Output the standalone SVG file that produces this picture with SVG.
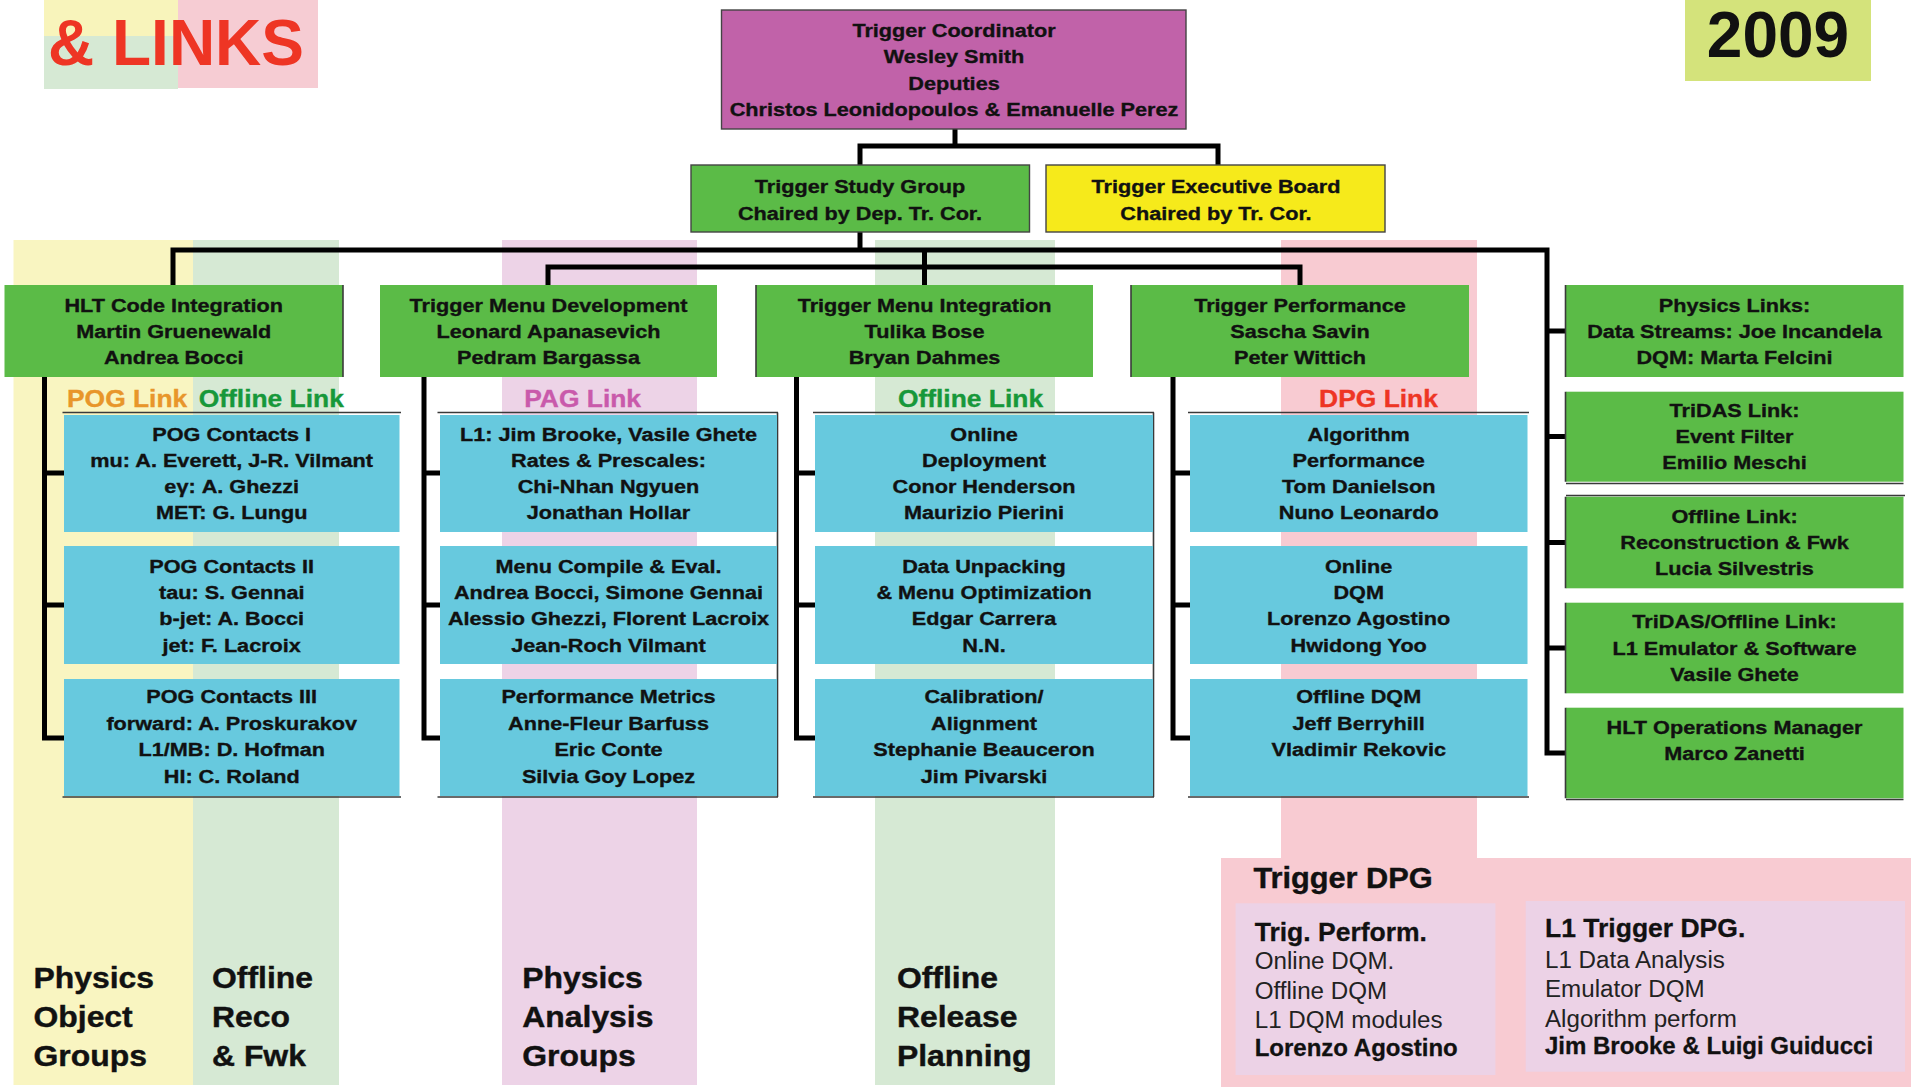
<svg xmlns="http://www.w3.org/2000/svg" width="1911" height="1088" viewBox="0 0 1911 1088">
<style>
.t{font-family:"Liberation Sans",Arial,Helvetica,sans-serif;font-weight:bold;font-size:19px;fill:#111;stroke:#111;stroke-width:0.35px;text-anchor:middle}
.big{font-family:"Liberation Sans",Arial,Helvetica,sans-serif;font-weight:bold;font-size:64px}
.lnk{font-family:"Liberation Sans",Arial,Helvetica,sans-serif;font-weight:bold;font-size:24px;stroke-width:0.35px}
.lab{font-family:"Liberation Sans",Arial,Helvetica,sans-serif;font-weight:bold;font-size:29px;fill:#111;stroke:#111;stroke-width:0.4px}
.dh{font-family:"Liberation Sans",Arial,Helvetica,sans-serif;font-weight:bold;font-size:26.5px;fill:#111;stroke:#111;stroke-width:0.3px}
.dr{font-family:"Liberation Sans",Arial,Helvetica,sans-serif;font-size:23px;fill:#222}
.db{font-family:"Liberation Sans",Arial,Helvetica,sans-serif;font-weight:bold;font-size:24px;fill:#111;stroke:#111;stroke-width:0.3px}
.gb{fill:#5bbb47}
.cy{fill:#67c9de}
.edge{stroke:#3a3a3a;stroke-width:1.6;fill:none}
</style>

<g id="background">
  <rect x="44" y="0" width="134" height="36" fill="#f8f4bb"/>
  <rect x="44" y="36" width="134" height="53" fill="#d6e9d4"/>
  <rect x="178" y="0" width="140" height="88" fill="#f6ccd3"/>
  <rect x="1685" y="0" width="186" height="81" fill="#d4e37b"/>
  <rect x="13.5" y="240" width="179.5" height="845" fill="#f9f5c1"/>
  <rect x="193" y="240" width="146" height="845" fill="#d6e9d4"/>
  <rect x="502" y="240" width="195" height="845" fill="#edd3e7"/>
  <rect x="875" y="240" width="180" height="845" fill="#d6e9d4"/>
  <rect x="1281" y="240" width="196" height="620" fill="#f8cbd2"/>
</g>

<g id="title">
  <text class="big" x="48" y="65" fill="#ee3524">&amp; LINKS</text>
  <text class="big" x="1778" y="57" fill="#111" text-anchor="middle">2009</text>
</g>

<g id="connectors" fill="none" stroke="#000" stroke-width="5">
  <path d="M955,129V146"/>
  <path d="M860,165V146H1218V165"/>
  <path d="M860,232V250"/>
  <path d="M173,285V250H1547V753H1566"/>
  <path d="M924.5,250V285"/>
  <path d="M548,285V267H1300V285"/>
  <path d="M1547,331H1566M1547,436.5H1566M1547,542.5H1566M1547,648H1566"/>
  <path d="M44.5,377V738H64M44.5,473H64M44.5,605H64"/>
  <path d="M424,377V738H440M424,473H440M424,605H440"/>
  <path d="M796.5,377V738H815M796.5,473H815M796.5,605H815"/>
  <path d="M1173,377V738H1190M1173,473H1190M1173,605H1190"/>
</g>

<g id="trigger-coordinator">
  <rect x="721.5" y="10" width="464.5" height="119" fill="#c162a9" stroke="#444" stroke-width="1.4"/>
  <text class="t" transform="translate(954,37.3) scale(1.14 1)"><tspan x="0">Trigger Coordinator</tspan><tspan x="0" dy="26.2">Wesley Smith</tspan><tspan x="0" dy="26.2">Deputies</tspan><tspan x="0" dy="26.2">Christos Leonidopoulos &amp; Emanuelle Perez</tspan></text>
</g>

<g id="trigger-study-group">
  <rect x="691" y="165" width="338.5" height="67" class="gb" stroke="#444" stroke-width="1.4"/>
  <text class="t" transform="translate(860,193.3) scale(1.14 1)"><tspan x="0">Trigger Study Group</tspan><tspan x="0" dy="26.7">Chaired by Dep. Tr. Cor.</tspan></text>
</g>

<g id="trigger-executive-board">
  <rect x="1046" y="165" width="339" height="67" fill="#f6ea1b" stroke="#444" stroke-width="1.4"/>
  <text class="t" transform="translate(1216,193.3) scale(1.14 1)"><tspan x="0">Trigger Executive Board</tspan><tspan x="0" dy="26.7">Chaired by Tr. Cor.</tspan></text>
</g>

<g id="hlt-code-integration">
  <rect x="4.5" y="285" width="338.5" height="92" class="gb"/>
  <path class="edge" d="M343,285V377"/>
  <text class="t" transform="translate(173.7,311.7) scale(1.14 1)"><tspan x="0">HLT Code Integration</tspan><tspan x="0" dy="26.2">Martin Gruenewald</tspan><tspan x="0" dy="26.2">Andrea Bocci</tspan></text>
</g>

<g id="trigger-menu-development">
  <rect x="380" y="285" width="337" height="92" class="gb"/>
  <text class="t" transform="translate(548.5,311.7) scale(1.14 1)"><tspan x="0">Trigger Menu Development</tspan><tspan x="0" dy="26.2">Leonard Apanasevich</tspan><tspan x="0" dy="26.2">Pedram Bargassa</tspan></text>
</g>

<g id="trigger-menu-integration">
  <rect x="756" y="285" width="337" height="92" class="gb"/>
  <path class="edge" d="M756,285V377"/>
  <text class="t" transform="translate(924.5,311.7) scale(1.14 1)"><tspan x="0">Trigger Menu Integration</tspan><tspan x="0" dy="26.2">Tulika Bose</tspan><tspan x="0" dy="26.2">Bryan Dahmes</tspan></text>
</g>

<g id="trigger-performance">
  <rect x="1131" y="285" width="338" height="92" class="gb"/>
  <path class="edge" d="M1131,285V377"/>
  <text class="t" transform="translate(1300,311.7) scale(1.14 1)"><tspan x="0">Trigger Performance</tspan><tspan x="0" dy="26.2">Sascha Savin</tspan><tspan x="0" dy="26.2">Peter Wittich</tspan></text>
</g>

<g id="physics-links">
  <rect x="1566" y="285" width="337.5" height="92" class="gb"/>
  <path class="edge" d="M1565.5,285V377"/>
  <text class="t" transform="translate(1734.5,311.7) scale(1.14 1)"><tspan x="0">Physics Links:</tspan><tspan x="0" dy="26.2">Data Streams: Joe Incandela</tspan><tspan x="0" dy="26.2">DQM: Marta Felcini</tspan></text>
</g>

<g id="tridas-link">
  <rect x="1566" y="391.7" width="337.5" height="90" class="gb"/>
  <path class="edge" d="M1565.5,391.7V481.7M1566,483.5H1903.5"/>
  <text class="t" transform="translate(1734.5,417.3) scale(1.14 1)"><tspan x="0">TriDAS Link:</tspan><tspan x="0" dy="26">Event Filter</tspan><tspan x="0" dy="26">Emilio Meschi</tspan></text>
</g>

<g id="offline-link-reco">
  <rect x="1566" y="496.7" width="337.5" height="91.6" class="gb"/>
  <path class="edge" d="M1565.5,496.7V588.3M1566,495.5H1905"/>
  <text class="t" transform="translate(1734.5,522.7) scale(1.14 1)"><tspan x="0">Offline Link:</tspan><tspan x="0" dy="26.2">Reconstruction &amp; Fwk</tspan><tspan x="0" dy="26.2">Lucia Silvestris</tspan></text>
</g>

<g id="tridas-offline-link">
  <rect x="1566" y="602.7" width="337.5" height="90.6" class="gb"/>
  <path class="edge" d="M1565.5,602.7V693.3"/>
  <text class="t" transform="translate(1734.5,628.3) scale(1.14 1)"><tspan x="0">TriDAS/Offline Link:</tspan><tspan x="0" dy="26.3">L1 Emulator &amp; Software</tspan><tspan x="0" dy="26.3">Vasile Ghete</tspan></text>
</g>

<g id="hlt-operations-manager">
  <rect x="1566" y="707.7" width="337.5" height="90.6" class="gb"/>
  <path class="edge" d="M1565.5,707.7V798.3M1566,799.5H1903.5"/>
  <text class="t" transform="translate(1734.5,734) scale(1.14 1)"><tspan x="0">HLT Operations Manager</tspan><tspan x="0" dy="26">Marco Zanetti</tspan></text>
</g>

<g id="link-labels">
  <text class="lnk" transform="translate(67,406.7) scale(1.1 1)" fill="#e8962a" stroke="#e8962a">POG Link</text>
  <text class="lnk" transform="translate(198.7,406.7) scale(1.1 1)" fill="#17983a" stroke="#17983a">Offline Link</text>
  <text class="lnk" transform="translate(582.6,406.7) scale(1.1 1)" fill="#c95aab" stroke="#c95aab" text-anchor="middle">PAG Link</text>
  <text class="lnk" transform="translate(970.5,406.7) scale(1.1 1)" fill="#17983a" stroke="#17983a" text-anchor="middle">Offline Link</text>
  <text class="lnk" transform="translate(1378.5,406.7) scale(1.1 1)" fill="#ee3524" stroke="#ee3524" text-anchor="middle">DPG Link</text>
</g>

<g id="column-edges">
  <path class="edge" d="M62.5,412.5H401M62.5,797H401"/>
  <path class="edge" d="M437.5,412.5H778M437.5,797H778M777.5,412.5V797"/>
  <path class="edge" d="M813,412.5H1154M813,797H1154M1153.5,412.5V797"/>
  <path class="edge" d="M1188,412.5H1529M1188,797H1529"/>
</g>

<g id="pog-contacts-1">
  <rect x="64" y="415" width="335.5" height="117" class="cy"/>
  <text class="t" transform="translate(231.7,440.7) scale(1.14 1)"><tspan x="0">POG Contacts I</tspan><tspan x="0" dy="26.2">mu: A. Everett, J-R. Vilmant</tspan><tspan x="0" dy="26.2">eγ: A. Ghezzi</tspan><tspan x="0" dy="26.2">MET: G. Lungu</tspan></text>
</g>
<g id="pog-contacts-2">
  <rect x="64" y="546" width="335.5" height="118" class="cy"/>
  <text class="t" transform="translate(231.7,572.7) scale(1.14 1)"><tspan x="0">POG Contacts II</tspan><tspan x="0" dy="26.3">tau: S. Gennai</tspan><tspan x="0" dy="26.3">b-jet: A. Bocci</tspan><tspan x="0" dy="26.3">jet: F. Lacroix</tspan></text>
</g>
<g id="pog-contacts-3">
  <rect x="64" y="679" width="335.5" height="117" class="cy"/>
  <text class="t" transform="translate(231.7,703.3) scale(1.14 1)"><tspan x="0">POG Contacts III</tspan><tspan x="0" dy="26.5">forward: A. Proskurakov</tspan><tspan x="0" dy="26.5">L1/MB: D. Hofman</tspan><tspan x="0" dy="26.5">HI: C. Roland</tspan></text>
</g>

<g id="pag-l1-rates">
  <rect x="440" y="415" width="337" height="117" class="cy"/>
  <text class="t" transform="translate(608.5,440.7) scale(1.14 1)"><tspan x="0">L1: Jim Brooke, Vasile Ghete</tspan><tspan x="0" dy="26.2">Rates &amp; Prescales:</tspan><tspan x="0" dy="26.2">Chi-Nhan Ngyuen</tspan><tspan x="0" dy="26.2">Jonathan Hollar</tspan></text>
</g>
<g id="pag-menu-compile">
  <rect x="440" y="546" width="337" height="118" class="cy"/>
  <text class="t" transform="translate(608.5,572.7) scale(1.14 1)"><tspan x="0">Menu Compile &amp; Eval.</tspan><tspan x="0" dy="26.3">Andrea Bocci, Simone Gennai</tspan><tspan x="0" dy="26.3">Alessio Ghezzi, Florent Lacroix</tspan><tspan x="0" dy="26.3">Jean-Roch Vilmant</tspan></text>
</g>
<g id="pag-performance-metrics">
  <rect x="440" y="679" width="337" height="117" class="cy"/>
  <text class="t" transform="translate(608.5,703.3) scale(1.14 1)"><tspan x="0">Performance Metrics</tspan><tspan x="0" dy="26.5">Anne-Fleur Barfuss</tspan><tspan x="0" dy="26.5">Eric Conte</tspan><tspan x="0" dy="26.5">Silvia Goy Lopez</tspan></text>
</g>

<g id="online-deployment">
  <rect x="815" y="415" width="338" height="117" class="cy"/>
  <text class="t" transform="translate(984,440.7) scale(1.14 1)"><tspan x="0">Online</tspan><tspan x="0" dy="26.2">Deployment</tspan><tspan x="0" dy="26.2">Conor Henderson</tspan><tspan x="0" dy="26.2">Maurizio Pierini</tspan></text>
</g>
<g id="data-unpacking">
  <rect x="815" y="546" width="338" height="118" class="cy"/>
  <text class="t" transform="translate(984,572.7) scale(1.14 1)"><tspan x="0">Data Unpacking</tspan><tspan x="0" dy="26.3">&amp; Menu Optimization</tspan><tspan x="0" dy="26.3">Edgar Carrera</tspan><tspan x="0" dy="26.3">N.N.</tspan></text>
</g>
<g id="calibration-alignment">
  <rect x="815" y="679" width="338" height="117" class="cy"/>
  <text class="t" transform="translate(984,703.3) scale(1.14 1)"><tspan x="0">Calibration/</tspan><tspan x="0" dy="26.5">Alignment</tspan><tspan x="0" dy="26.5">Stephanie Beauceron</tspan><tspan x="0" dy="26.5">Jim Pivarski</tspan></text>
</g>

<g id="algorithm-performance">
  <rect x="1190" y="415" width="337.5" height="117" class="cy"/>
  <text class="t" transform="translate(1358.7,440.7) scale(1.14 1)"><tspan x="0">Algorithm</tspan><tspan x="0" dy="26.2">Performance</tspan><tspan x="0" dy="26.2">Tom Danielson</tspan><tspan x="0" dy="26.2">Nuno Leonardo</tspan></text>
</g>
<g id="online-dqm">
  <rect x="1190" y="546" width="337.5" height="118" class="cy"/>
  <text class="t" transform="translate(1358.7,572.7) scale(1.14 1)"><tspan x="0">Online</tspan><tspan x="0" dy="26.3">DQM</tspan><tspan x="0" dy="26.3">Lorenzo Agostino</tspan><tspan x="0" dy="26.3">Hwidong Yoo</tspan></text>
</g>
<g id="offline-dqm">
  <rect x="1190" y="679" width="337.5" height="117" class="cy"/>
  <text class="t" transform="translate(1358.7,703.3) scale(1.14 1)"><tspan x="0">Offline DQM</tspan><tspan x="0" dy="26.5">Jeff Berryhill</tspan><tspan x="0" dy="26.5">Vladimir Rekovic</tspan></text>
</g>

<g id="column-labels">
  <text class="lab" transform="translate(33.5,988.3) scale(1.1 1)"><tspan x="0">Physics</tspan><tspan x="0" dy="38.8">Object</tspan><tspan x="0" dy="38.8">Groups</tspan></text>
  <text class="lab" transform="translate(212,988.3) scale(1.1 1)"><tspan x="0">Offline</tspan><tspan x="0" dy="38.8">Reco</tspan><tspan x="0" dy="38.8">&amp; Fwk</tspan></text>
  <text class="lab" transform="translate(522.3,988.3) scale(1.1 1)"><tspan x="0">Physics</tspan><tspan x="0" dy="38.8">Analysis</tspan><tspan x="0" dy="38.8">Groups</tspan></text>
  <text class="lab" transform="translate(896.9,988.3) scale(1.1 1)"><tspan x="0">Offline</tspan><tspan x="0" dy="38.8">Release</tspan><tspan x="0" dy="38.8">Planning</tspan></text>
</g>

<g id="trigger-dpg">
  <rect x="1221" y="858" width="690" height="229" fill="#f8cbd2"/>
  <text class="lab" transform="translate(1253.4,888.3) scale(1.06 1)" font-size="30">Trigger DPG</text>
  <rect x="1235.6" y="903.3" width="259.8" height="171.7" fill="#ecd2e6"/>
  <rect x="1525.7" y="901" width="379.3" height="170.7" fill="#ecd2e6"/>
  <text class="dh" x="1254.7" y="940.7">Trig. Perform.</text>
  <text class="dr" transform="translate(1254.7,969.3) scale(1.05 1)"><tspan x="0">Online DQM.</tspan><tspan x="0" dy="30">Offline DQM</tspan><tspan x="0" dy="29">L1 DQM modules</tspan></text>
  <text class="db" x="1254.7" y="1056">Lorenzo Agostino</text>
  <text class="dh" x="1545" y="936.7">L1 Trigger DPG.</text>
  <text class="dr" transform="translate(1545,968.3) scale(1.05 1)"><tspan x="0">L1 Data Analysis</tspan><tspan x="0" dy="29">Emulator DQM</tspan><tspan x="0" dy="29.4">Algorithm perform</tspan></text>
  <text class="db" x="1545" y="1054">Jim Brooke &amp; Luigi Guiducci</text>
</g>
</svg>
